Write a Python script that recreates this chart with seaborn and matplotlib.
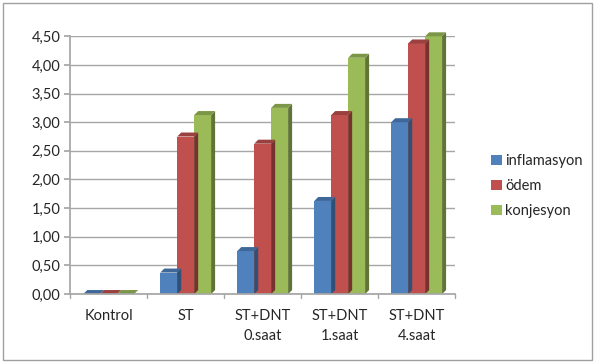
import matplotlib
matplotlib.use("Agg")
import matplotlib.pyplot as plt
import seaborn as sns
import pandas as pd
from matplotlib.patches import Rectangle, Polygon
from matplotlib.ticker import FuncFormatter, MultipleLocator
import matplotlib.colors as mcolors

categories = ["Kontrol", "ST", "ST+DNT\n0.saat", "ST+DNT\n1.saat", "ST+DNT\n4.saat"]
series = ["inflamasyon", "ödem", "konjesyon"]
inflamasyon = [0.0, 0.375, 0.75, 1.625, 3.0]
odem = [0.0, 2.75, 2.625, 3.125, 4.375]
konjesyon = [0.0, 3.125, 3.25, 4.125, 4.5]
colors = ["#4F81BD", "#C0504D", "#9BBB59"]

rows = []
for s, vals in zip(series, [inflamasyon, odem, konjesyon]):
    for c, v in zip(categories, vals):
        rows.append({"cat": c, "series": s, "val": v})
df = pd.DataFrame(rows)

sns.set_theme(style="white")
plt.rcParams["font.family"] = ["Lato", "DejaVu Sans"]

fig = plt.figure(figsize=(5.95, 3.63), dpi=100)
ax = fig.add_axes([0.118, 0.19, 0.647, 0.71])
sns.barplot(data=df, x="cat", y="val", hue="series", palette=colors,
            width=0.66, ax=ax, saturation=1, edgecolor="none", legend=True)

ax.set_ylim(0, 4.5)
ax.set_xlim(-0.5, 4.5)
ax.yaxis.set_major_locator(MultipleLocator(0.5))
ax.yaxis.set_major_formatter(FuncFormatter(lambda v, p: f"{v:.2f}".replace(".", ",")))
ax.grid(axis="y", color="#A6A6A6", linewidth=1.0)
ax.set_axisbelow(True)
ax.set_xlabel("")
ax.set_ylabel("")
for sp in ["top", "right"]:
    ax.spines[sp].set_visible(False)
ax.spines["left"].set_color("#A6A6A6")
ax.spines["bottom"].set_color("#A6A6A6")
ax.tick_params(axis="y", labelsize=10.5, colors="#262626", length=4, color="#A6A6A6", left=True, pad=3)
ax.tick_params(axis="x", labelsize=10.5, colors="#262626", length=0, pad=11)
for t in ax.get_xticklabels():
    t.set_linespacing(1.55)
for xb in [-0.5, 0.5, 1.5, 2.5, 3.5, 4.5]:
    ax.plot([xb, xb], [0, -0.07], color="#A6A6A6", lw=1, clip_on=False)

# pseudo-3D faces derived from the drawn bars
fig.canvas.draw()
px_per_x = ax.bbox.width / 5.0
px_per_y = ax.bbox.height / 4.5
dx = 4.0 / px_per_x
dy = 4.0 / px_per_y
for p in list(ax.patches):
    x, w, h = p.get_x(), p.get_width(), p.get_height()
    base = mcolors.to_rgb(p.get_facecolor())
    side = tuple(c * 0.62 for c in base)
    top = tuple(c * 0.8 for c in base)
    ax.add_patch(Polygon([(x + w, 0), (x + w + dx, dy), (x + w + dx, h + dy), (x + w, h)],
                         closed=True, facecolor=side, edgecolor="none", clip_on=False, zorder=p.get_zorder()))
    ax.add_patch(Polygon([(x, h), (x + w, h), (x + w + dx, h + dy), (x + dx, h + dy)],
                         closed=True, facecolor=top, edgecolor="none", clip_on=False, zorder=p.get_zorder()))

handles, labels = ax.get_legend_handles_labels()
leg = ax.legend(handles[:3], labels[:3], loc="center left", bbox_to_anchor=(1.06, 0.42), frameon=False,
                fontsize=10.5, handlelength=0.7, handleheight=0.7, handletextpad=0.25,
                labelspacing=0.75)
for t in leg.get_texts():
    t.set_color("#262626")

fig.patches.append(Rectangle((0.005, 0.008), 0.99, 0.984, transform=fig.transFigure,
                             fill=False, edgecolor="#A0A0A0", linewidth=1))
fig.savefig("out.png", dpi=100)
